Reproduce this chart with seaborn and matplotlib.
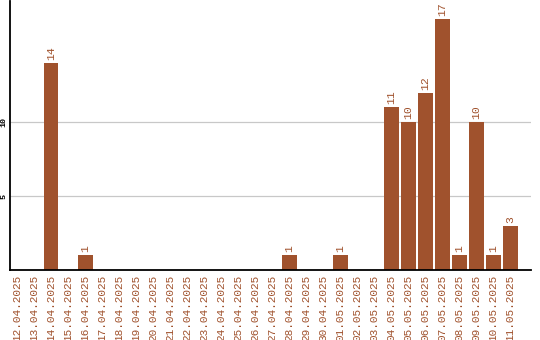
import matplotlib
matplotlib.use("Agg")
import matplotlib.pyplot as plt
import seaborn as sns
import pandas as pd
import numpy as np

dates = ["12.04.2025", "13.04.2025", "14.04.2025", "15.04.2025", "16.04.2025",
         "17.04.2025", "18.04.2025", "19.04.2025", "20.04.2025", "21.04.2025",
         "22.04.2025", "23.04.2025", "24.04.2025", "25.04.2025", "26.04.2025",
         "27.04.2025", "28.04.2025", "29.04.2025", "30.04.2025", "01.05.2025",
         "02.05.2025", "03.05.2025", "04.05.2025", "05.05.2025", "06.05.2025",
         "07.05.2025", "08.05.2025", "09.05.2025", "10.05.2025", "11.05.2025"]
counts = [0, 0, 14, 0, 1, 0, 0, 0, 0, 0,
          0, 0, 0, 0, 0, 0, 1, 0, 0, 1,
          0, 0, 11, 10, 12, 17, 1, 10, 1, 3]
yticks = [5, 10]

color = "#A0522D"
sns.set_style("white")
plt.rcParams['font.family'] = ['Liberation Mono', 'DejaVu Sans Mono']

df = pd.DataFrame({"date": dates, "count": counts})
fig = plt.figure(figsize=(5.4, 3.4), dpi=100)
ax = fig.add_axes([10/540, 70/340, 521/540, 269/340])
sns.barplot(data=df, x="date", y="count", color=color, saturation=1, width=0.86,
            linewidth=0, ax=ax)

for i, v in enumerate(counts):
    if v > 0:
        ax.text(i, v + 0.2, str(v), rotation=90, ha="center", va="bottom",
                color=color, fontsize=8.2)

ax.set_xlim(-0.42, 30.2)
ax.set_ylim(0, 18.2)
ax.set_yticks(yticks)
ax.set_yticklabels([str(t) for t in yticks], rotation=90, va="center", fontsize=6,
                   color="black", fontweight="bold")
ax.tick_params(axis="y", length=0, pad=2)
ax.tick_params(axis="x", length=0, pad=3.5, labelrotation=90, labelcolor=color, labelsize=8)
ax.yaxis.grid(True, color="#c8c8c8", linewidth=0.9)
ax.set_axisbelow(True)
ax.set_xlabel("")
ax.set_ylabel("")
for s in ["top", "right"]:
    ax.spines[s].set_visible(False)
for s in ["left", "bottom"]:
    ax.spines[s].set_color("black")
    ax.spines[s].set_linewidth(1.3)

fig.savefig("out.png", dpi=100)
